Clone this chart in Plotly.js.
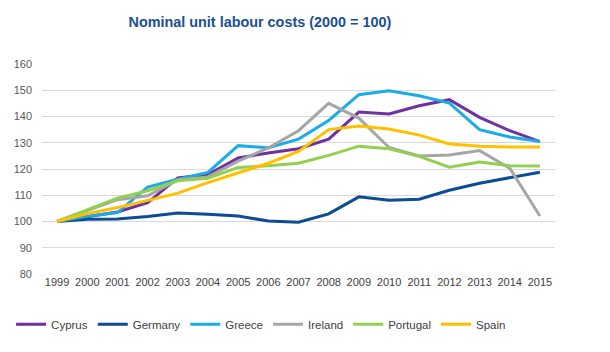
<!DOCTYPE html>
<html>
<head>
<meta charset="utf-8">
<script src="https://cdn.plot.ly/plotly-3.0.1.min.js"></script>
<style>html,body{margin:0;padding:0;background:#fff;}#chart{width:610px;height:352px;}</style>
</head>
<body>
<div id="chart"></div>
<script>
const years = [1999,2000,2001,2002,2003,2004,2005,2006,2007,2008,2009,2010,2011,2012,2013,2014,2015];
const cyprus   = [100,101.8,103.6,107.2,116.6,117.9,124.2,126.1,127.7,131.4,141.7,141.0,144.1,146.4,139.7,134.6,130.4];
const germany  = [100,100.9,101.0,101.9,103.2,102.8,102.1,100.2,99.7,102.9,109.4,108.1,108.5,111.9,114.6,116.6,118.8];
const greece   = [100,102.0,103.4,113.1,116.1,118.7,128.9,128.1,131.4,138.5,148.3,149.8,147.9,145.1,135.0,132.2,130.5];
const ireland  = [100,104.0,108.3,109.8,115.8,117.0,123.0,128.0,134.6,145.0,139.4,128.2,125.0,125.3,127.0,120.3,102.1];
const portugal = [100,104.6,108.9,111.7,115.5,116.5,120.6,121.2,122.2,125.2,128.7,127.7,124.8,120.7,122.7,121.2,121.1];
const spain    = [100,103.0,105.3,108.0,110.8,114.8,118.4,122.2,126.7,135.0,136.4,135.2,132.9,129.5,128.7,128.4,128.4];
const seriesNames = ['Cyprus','Germany','Greece','Ireland','Portugal','Spain'];
const seriesData = [cyprus, germany, greece, ireland, portugal, spain];
const colors = ['#7030A0','#0B4C92','#1AACE6','#A6A6A6','#92D050','#FFC000'];

const traces = seriesData.map((d,i)=>({
  x: years, y: d, name: seriesNames[i], type:'scatter', mode:'lines',
  line:{color:colors[i], width:3}
}));

const layout = {
  width:610, height:352,
  margin:{l:42, r:55, t:64, b:78, autoexpand:false},
  paper_bgcolor:'#fff', plot_bgcolor:'#fff',
  font:{family:'Arial, Liberation Sans, sans-serif', color:'#595959', size:11},
  title:{text:'<b>Nominal unit labour costs (2000 = 100)</b>', x:0.426, xanchor:'center', xref:'container',
         y:0.938, yanchor:'middle', yref:'container',
         font:{family:'Arial, Liberation Sans, sans-serif', size:14.4, color:'#1B4F93'}},
  xaxis:{range:[1998.5,2015.5], tickmode:'array', tickvals:years, ticktext:years.map(String),
         showgrid:false, zeroline:false, showline:false, ticks:'', tickfont:{size:11, color:'#404040'}},
  yaxis:{range:[80,160], dtick:10, tick0:80, showgrid:true, gridcolor:'#D9D9D9', gridwidth:1,
         zeroline:false, showline:false, ticks:'', ticklabelstandoff:9, tickfont:{size:11, color:'#595959'}},
  showlegend:true,
  legend:{orientation:'h', xref:'container', yref:'container', x:0.428, xanchor:'center', y:0.079, yanchor:'middle',
          font:{family:'Arial, Liberation Sans, sans-serif', size:11.5, color:'#404040'},
          itemwidth:30, tracegroupgap:0, bgcolor:'rgba(0,0,0,0)'}
};
Plotly.newPlot('chart', traces, layout, {displayModeBar:false, staticPlot:true});
</script>
</body>
</html>
